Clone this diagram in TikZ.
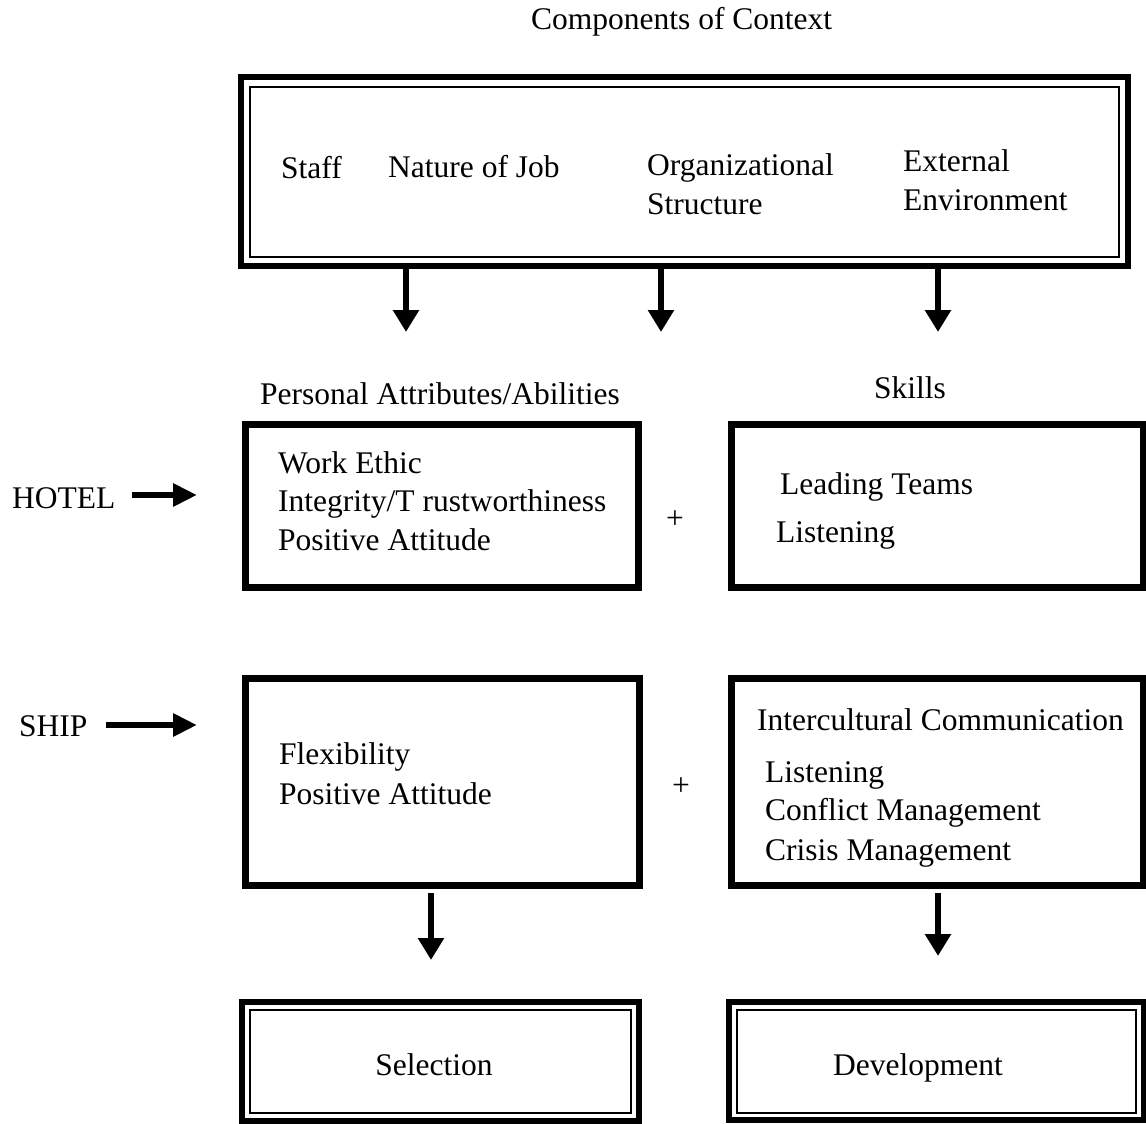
\documentclass[tikz,border=0pt]{standalone}
\usepackage{fontspec}
\setmainfont{Liberation Serif}
\usetikzlibrary{arrows.meta}
\begin{document}
\begin{tikzpicture}[x=1pt,y=-1pt,
  txt/.style={inner sep=0pt, anchor=base west, font=\fontsize{31.5}{38}\selectfont},
  ctxt/.style={inner sep=0pt, anchor=base, font=\fontsize{31.5}{38}\selectfont},
  plus/.style={inner sep=0pt, anchor=center, font=\fontsize{31.5}{38}\selectfont},
  heavybox/.style={draw, line width=7pt, inner sep=0pt},
  dblbox/.style={draw, line width=6pt, inner sep=0pt,
    path picture={\draw[line width=2pt]
      ([shift={(#1,-#1)}]path picture bounding box.north west) rectangle
      ([shift={(-#1,#1)}]path picture bounding box.south east);}},
  arr/.style={line width=6.5pt, -{Triangle[length=22pt,width=25pt]}},
  harr/.style={line width=6.5pt, -{Triangle[length=24pt,width=22pt]}}
]
\useasboundingbox (0,0) rectangle (1146,1124);

% title and context components
\node[txt] (title) at (531,30) {Components of Context};
\node[dblbox=9.5pt, minimum width=887.5pt, minimum height=188.5pt] (ctx) at (684.25,171.75) {};
\node[txt] (staff) at (281,178) {Staff};
\node[txt] (job) at (388,177) {Nature of Job};
\node[txt] (org1) at (647,175) {Organizational};
\node[txt] (org2) at (647,214) {Structure};
\node[txt] (ext1) at (903,171) {External};
\node[txt] (ext2) at (903,210) {Environment};

% arrows out of the context box
\coordinate (a1) at (406,332);
\coordinate (a2) at (661,332);
\coordinate (a3) at (938,332);
\draw[arr] (ctx.south -| a1) -- (a1);
\draw[arr] (ctx.south -| a2) -- (a2);
\draw[arr] (ctx.south -| a3) -- (a3);

% column headings
\node[txt] (pahead) at (260,404) {Personal Attributes/Abilities};
\node[txt] (skhead) at (874,398) {Skills};

% hotel row
\node[heavybox, minimum width=393pt, minimum height=163pt] (pah) at (442,505.5) {};
\node[heavybox, minimum width=412pt, minimum height=163pt] (skh) at (937,505.5) {};
\node[txt] (hotel) at (12,508) {HOTEL};
\coordinate (h1) at (197,495);
\draw[harr] ([xshift=16pt]h1 -| hotel.east) -- (h1);
\node[txt] (pah1) at (278,473) {Work Ethic};
\node[txt] (pah2) at (278,511) {Integrity/T rustworthiness};
\node[txt] (pah3) at (278,550) {Positive Attitude};
\node[plus] (plush) at (675,520) {+};
\node[txt] (skh1) at (780,494) {Leading Teams};
\node[txt] (skh2) at (776,542) {Listening};

% ship row
\node[heavybox, minimum width=393.5pt, minimum height=207pt] (pas) at (442.25,781.5) {};
\node[heavybox, minimum width=412pt, minimum height=207pt] (sks) at (937,781.5) {};
\node[txt] (ship) at (19,736) {SHIP};
\coordinate (s1) at (197,725);
\draw[harr] ([xshift=18pt]s1 -| ship.east) -- (s1);
\node[txt] (pas1) at (279,764) {Flexibility};
\node[txt] (pas2) at (279,804) {Positive Attitude};
\node[plus] (pluss) at (681,787) {+};
\node[txt] (sks1) at (757,730) {Intercultural Communication};
\node[txt] (sks2) at (765,782) {Listening};
\node[txt] (sks3) at (765,820) {Conflict Management};
\node[txt] (sks4) at (765,860) {Crisis Management};

% outcomes
\coordinate (b1) at (431,960);
\coordinate (b2) at (938,956);
\draw[arr] ([yshift=-4pt]pas.south -| b1) -- (b1);
\draw[arr] ([yshift=-4pt]sks.south -| b2) -- (b2);
\node[dblbox=8pt, minimum width=397.5pt, minimum height=119pt] (sel) at (440.25,1061) {};
\node[dblbox=7.5pt, minimum width=414.5pt, minimum height=118pt] (dev) at (936.25,1061) {};
\node[ctxt] (seltxt) at (434,1075) {Selection};
\node[ctxt] (devtxt) at (918,1075) {Development};
\end{tikzpicture}
\end{document}
